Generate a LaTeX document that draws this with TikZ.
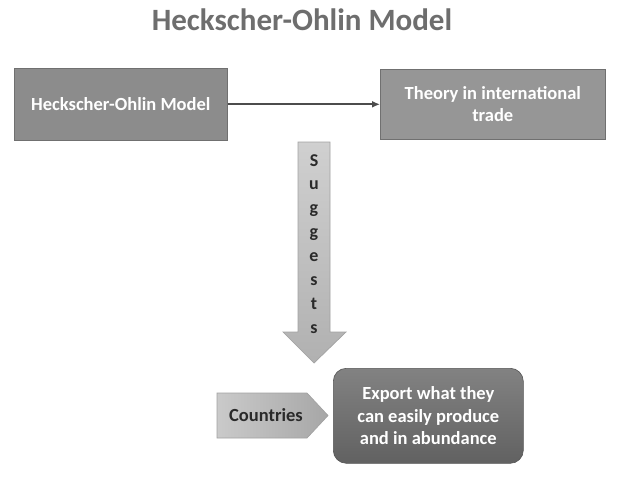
\documentclass[tikz,border=0pt]{standalone}
\usepackage{fontspec}
\setmainfont{Carlito}
\usetikzlibrary{arrows.meta}
\definecolor{titlegray}{HTML}{6E6E6E}
\definecolor{boxgray}{HTML}{8C8C8C}
\definecolor{boxgrayb}{HTML}{969696}
\definecolor{lightgray}{HTML}{C4C4C4}
\definecolor{edgegray}{HTML}{A2A2A2}
\definecolor{darkbox}{HTML}{6C6C6C}
\definecolor{textdark}{HTML}{2A2A2A}
\tikzset{
  flatbox/.style={draw=boxgray!80!black, fill=#1, line width=0.6pt, text=white, font=\bfseries\fontsize{18.5}{22}\selectfont, align=center, inner sep=0pt},
  conn/.style={draw=black!70, line width=2.2pt, -{Latex[length=8pt,width=7pt]}},
}
\begin{document}
\begin{tikzpicture}[x=1pt,y=-1pt]
\useasboundingbox[fill=white] (0,0) rectangle (618,482);
\node[text=titlegray, font=\bfseries\fontsize{31}{36}\selectfont] (title) at (302,20) {Heckscher-Ohlin Model};
\node[flatbox=boxgray, minimum width=213pt, minimum height=72pt, anchor=north west] (hom) at (14,68) {Heckscher-Ohlin Model};
\node[flatbox=boxgrayb, minimum width=225pt, minimum height=70pt, anchor=north west] (theory) at (380,69) {Theory in international\\trade};
\draw[conn] (hom.east) -- (theory.west);
% down arrow
\path[draw=edgegray, line width=0.7pt, top color=lightgray!80!white, bottom color=lightgray!90!black]
  (298,142) -- (330,142) -- (330,332) -- (346,332) -- (314,363) -- (283,332) -- (298,332) -- cycle;
\node[text=textdark, font=\bfseries\fontsize{18}{23.9}\selectfont, align=center, anchor=north, inner sep=0pt] (sug) at (314,154) {S\\u\\g\\g\\e\\s\\t\\s};
% countries pentagon
\path[draw=edgegray, line width=0.7pt, left color=lightgray!90!white, right color=lightgray!85!black]
  (217,393) -- (307,393) -- (328,415.5) -- (307,438) -- (217,438) -- cycle;
\node[text=textdark, font=\bfseries\fontsize{18.5}{22}\selectfont] (countries) at (266,415.5) {Countries};
% rounded box
\node[draw=darkbox!80!black, line width=0.6pt, rounded corners=13pt, top color=darkbox!85!white, bottom color=darkbox!90!black, minimum width=190pt, minimum height=95pt, anchor=north west, text=white, font=\bfseries\fontsize{18.5}{22.5}\selectfont, align=center, inner sep=0pt] (export) at (333,368) {Export what they\\can easily produce\\and in abundance};
\end{tikzpicture}
\end{document}
